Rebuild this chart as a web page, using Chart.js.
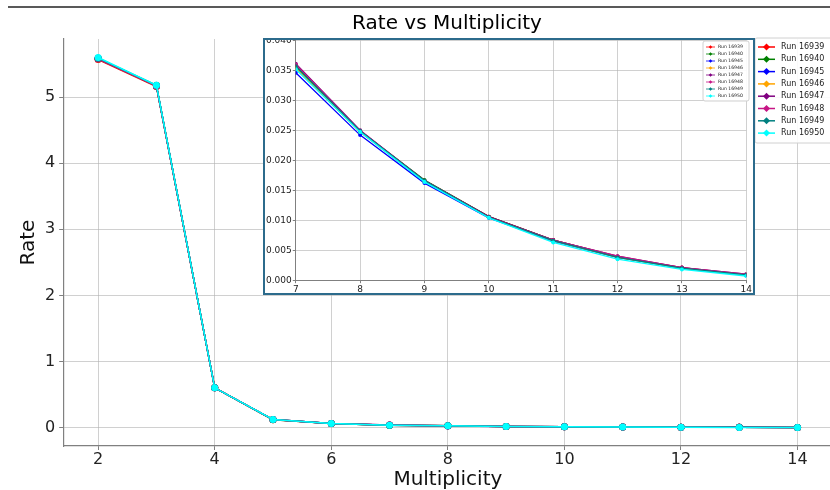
<!DOCTYPE html>
<html>
<head>
<meta charset="utf-8">
<script src="https://cdn.jsdelivr.net/npm/chart.js@4.4.1/dist/chart.umd.min.js"></script>
<style>
  body { margin: 0; background: #fff; }
  #wrap { position: relative; width: 830px; height: 490px; overflow: hidden; }
  #main { position: absolute; left: 0; top: 0; }
  #insetBox { position: absolute; left: 263px; top: 38px; width: 492px; height: 257px;
    box-sizing: border-box; border: 2px solid #2c6b8c; background: #fff; overflow: hidden; }
  #inset { position: absolute; left: 0; top: -6px; }
</style>
</head>
<body>
<div id="wrap">
  <canvas id="main" width="836" height="490"></canvas>
  <div id="insetBox"><canvas id="inset" width="488" height="262"></canvas></div>
</div>
<script>
// data
let multiplicity = [2, 3, 4, 5, 6, 7, 8, 9, 10, 11, 12, 13, 14]
let runs = ["Run 16939", "Run 16940", "Run 16945", "Run 16946", "Run 16947", "Run 16948", "Run 16949", "Run 16950"]
let colors = ["red", "green", "blue", "orange", "purple", "mediumvioletred", "teal", "cyan"]

let run16939 = [5.57, 5.16, 0.60, 0.118, 0.061, 0.0356, 0.0248, 0.0166, 0.0106, 0.0067, 0.0039, 0.0021, 0.0009]
let run16940 = [5.58, 5.17, 0.60, 0.119, 0.062, 0.0358, 0.0249, 0.0167, 0.0106, 0.0067, 0.0039, 0.0020, 0.0009]
let run16945 = [5.59, 5.17, 0.60, 0.120, 0.060, 0.0346, 0.0242, 0.0162, 0.0104, 0.0065, 0.0038, 0.0020, 0.0008]
let run16946 = [5.58, 5.17, 0.60, 0.120, 0.061, 0.0354, 0.0247, 0.0165, 0.0105, 0.0066, 0.0038, 0.0020, 0.0009]
let run16947 = [5.58, 5.17, 0.60, 0.120, 0.062, 0.0361, 0.0250, 0.0166, 0.0106, 0.0067, 0.0040, 0.0021, 0.0010]
let run16948 = [5.58, 5.17, 0.60, 0.120, 0.062, 0.0360, 0.0249, 0.0166, 0.0105, 0.0067, 0.0040, 0.0021, 0.0010]
let run16949 = [5.59, 5.18, 0.60, 0.120, 0.061, 0.0357, 0.0249, 0.0166, 0.0105, 0.0066, 0.0038, 0.0020, 0.0009]
let run16950 = [5.60, 5.18, 0.60, 0.121, 0.061, 0.0352, 0.0247, 0.0164, 0.0104, 0.0063, 0.0035, 0.0018, 0.0007]
let allRuns = [run16939, run16940, run16945, run16946, run16947, run16948, run16949, run16950]

let mainXTicks = [2, 4, 6, 8, 10, 12, 14]
let mainYTicks = [0, 1, 2, 3, 4, 5]
let insetXTicks = [7, 8, 9, 10, 11, 12, 13, 14]
let insetYTicks = [0, 0.005, 0.01, 0.015, 0.02, 0.025, 0.03, 0.035, 0.04]

Chart.defaults.font.family = "'DejaVu Sans', sans-serif"
Chart.defaults.color = "#222"
Chart.defaults.animation = false

let gridColor = "rgba(176,176,176,0.6)"
let spineColor = "#808080"

function points(values, from) {
    let out = []
    for (let i = from; i < multiplicity.length; i++) out.push({ x: multiplicity[i], y: values[i] })
    return out
}

// later runs are drawn on top, like matplotlib
function makeDatasets(from, lw, r) {
    return allRuns.map((vals, i) => ({
        label: runs[i],
        data: points(vals, from),
        borderColor: colors[i],
        backgroundColor: colors[i],
        borderWidth: lw,
        pointRadius: r,
        pointBorderWidth: 0,
        pointHoverRadius: r,
        order: allRuns.length - 1 - i,
    }))
}

// legend drawn like matplotlib: a line with a diamond in the middle
function drawLegend(ctx, o) {
    ctx.save()
    ctx.fillStyle = "rgba(255,255,255,0.9)"
    ctx.strokeStyle = "#d0d0d0"
    ctx.lineWidth = 1
    ctx.beginPath()
    ctx.roundRect(o.x, o.y, o.w, o.h, 2)
    ctx.fill()
    ctx.stroke()
    ctx.font = o.font + "px 'DejaVu Sans'"
    ctx.textBaseline = "middle"
    runs.forEach((name, i) => {
        let y = o.first + i * o.step
        ctx.strokeStyle = colors[i]
        ctx.lineWidth = o.lw
        ctx.beginPath()
        ctx.moveTo(o.x0, y)
        ctx.lineTo(o.x0 + o.len, y)
        ctx.stroke()
        let cx = o.x0 + o.len / 2
        ctx.fillStyle = colors[i]
        ctx.beginPath()
        ctx.moveTo(cx, y - o.d)
        ctx.lineTo(cx + o.d, y)
        ctx.lineTo(cx, y + o.d)
        ctx.lineTo(cx - o.d, y)
        ctx.closePath()
        ctx.fill()
        ctx.fillStyle = "#222"
        ctx.fillText(name, o.tx, y)
    })
    ctx.restore()
}

let mainDeco = {
    id: "mainDeco",
    afterDraw(chart) {
        let ctx = chart.ctx
        ctx.save()
        ctx.strokeStyle = "#222"
        ctx.lineWidth = 1.5
        ctx.beginPath()
        ctx.moveTo(8, 7)
        ctx.lineTo(830, 7)
        ctx.stroke()
        ctx.fillStyle = "#000"
        ctx.font = "20px 'DejaVu Sans'"
        ctx.textAlign = "center"
        ctx.textBaseline = "middle"
        ctx.fillText("Rate vs Multiplicity", 447, 24)
        ctx.restore()
        drawLegend(ctx, { x: 755, y: 38, w: 80, h: 105, first: 47, step: 12.3, x0: 758, len: 17, d: 3.5, lw: 1.5, tx: 781, font: 8 })
    }
}

let insetDeco = {
    id: "insetDeco",
    beforeDraw(chart) {
        chart.ctx.save()
        chart.ctx.fillStyle = "#fff"
        chart.ctx.fillRect(0, 0, chart.width, chart.height)
        chart.ctx.restore()
    },
    afterDraw(chart) {
        // box placed in page coords 703..749, 41..101
        let ox = 265, oy = 40 - 6
        drawLegend(chart.ctx, { x: 703 - ox, y: 41 - oy, w: 46, h: 60, first: 47 - oy, step: 7, x0: 706 - ox, len: 9, d: 1.8, lw: 0.8, tx: 718 - ox, font: 4.6 })
    }
}

new Chart("main", {
    type: "line",
    data: { datasets: makeDatasets(0, 1.5, 3.5) },
    options: {
        responsive: false,
        layout: { padding: { top: 39, left: 13, right: 0, bottom: 0 } },
        plugins: { legend: { display: false }, tooltip: { enabled: false } },
        scales: {
            x: {
                type: "linear", min: 1.4, max: 14.6,
                afterBuildTicks: s => { s.ticks = mainXTicks.map(v => ({ value: v })) },
                ticks: { font: { size: 16, lineHeight: 1.0 }, padding: 2, color: "#222" },
                grid: { color: gridColor, tickLength: 4, tickColor: spineColor },
                border: { color: spineColor, width: 1.2 },
                title: { display: true, text: "Multiplicity", font: { size: 20, lineHeight: 1 }, padding: { top: 0, bottom: 0 }, color: "#111" }
            },
            y: {
                type: "linear", min: -0.28, max: 5.88,
                afterBuildTicks: s => { s.ticks = mainYTicks.map(v => ({ value: v })) },
                ticks: { font: { size: 16 }, padding: 4, color: "#222" },
                grid: { color: gridColor, tickLength: 4, tickColor: spineColor },
                border: { color: spineColor, width: 1.2 },
                title: { display: true, text: "Rate", font: { size: 20 }, padding: { top: 4, bottom: 0 }, color: "#111" }
            }
        }
    },
    plugins: [mainDeco]
})

new Chart("inset", {
    type: "line",
    data: { datasets: makeDatasets(5, 1.3, 2) },
    options: {
        responsive: false,
        layout: { padding: { top: 0, left: 0, right: 3, bottom: 0 } },
        plugins: { legend: { display: false }, tooltip: { enabled: false } },
        scales: {
            x: {
                type: "linear", min: 7, max: 14,
                afterBuildTicks: s => { s.ticks = insetXTicks.map(v => ({ value: v })) },
                ticks: { font: { size: 9 }, padding: 1, color: "#222" },
                grid: { color: gridColor, tickLength: 3, tickColor: spineColor },
                border: { color: spineColor, width: 1 }
            },
            y: {
                type: "linear", min: 0, max: 0.04,
                afterBuildTicks: s => { s.ticks = insetYTicks.map(v => ({ value: v })) },
                ticks: { font: { size: 9 }, padding: 1, color: "#222", callback: v => v.toFixed(3) },
                grid: { color: gridColor, tickLength: 3, tickColor: spineColor },
                border: { color: spineColor, width: 1 }
            }
        }
    },
    plugins: [insetDeco]
})
</script>
</body>
</html>
